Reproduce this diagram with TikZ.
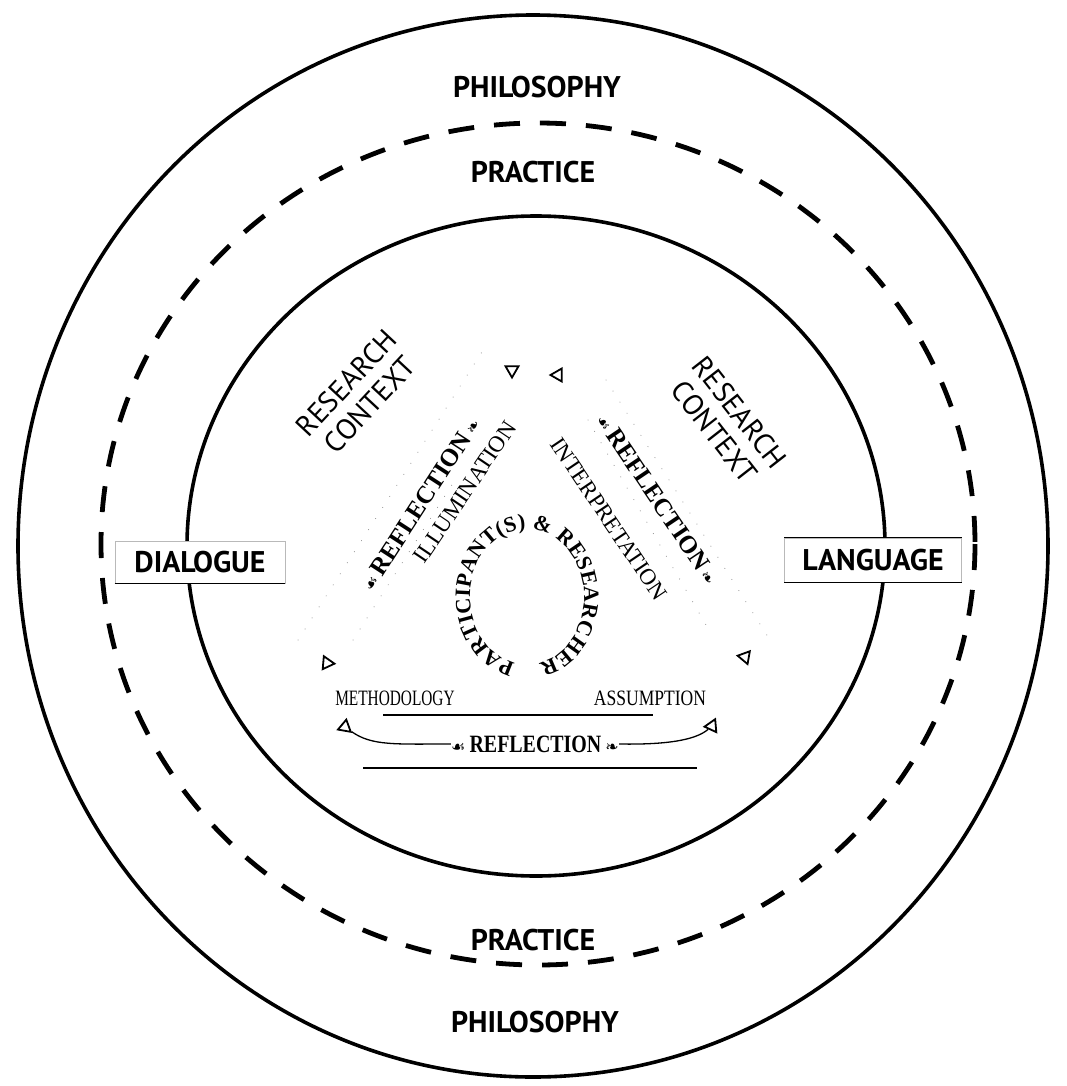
\documentclass[tikz,border=0pt]{standalone}
\usepackage{fontspec}
\setmainfont{Liberation Serif}
\setsansfont{PT Sans}
\newfontfamily\ornfont{DejaVu Sans}
\usetikzlibrary{decorations.text,shapes.geometric}
\newcommand{\lorn}{{\ornfont\fontsize{16}{16}\selectfont ☙}}
\newcommand{\rorn}{{\ornfont\fontsize{16}{16}\selectfont ❧}}
\tikzset{
  ringline/.style={line width=3.6bp},
  dashring/.style={line width=4.8bp, dash pattern=on 26bp off 20bp},
  ringlabel/.style={font=\sffamily\bfseries\fontsize{30}{32}\selectfont, inner sep=0pt},
  boxlabel/.style={font=\sffamily\bfseries\fontsize{30}{32}\selectfont, fill=white,
    draw=gray!55, line width=0.6bp, inner sep=0pt},
  ctxlabel/.style={font=\sffamily\fontsize{29}{32}\selectfont, align=center, inner sep=0pt},
  reflabel/.style={font=\bfseries\fontsize{25}{27}\selectfont, inner sep=0pt},
  sidelabel/.style={font=\fontsize{23}{25}\selectfont, inner sep=0pt},
  baselabel/.style={font=\fontsize{22}{24}\selectfont, inner sep=0pt},
  tri/.style={draw, regular polygon, regular polygon sides=3, minimum size=15bp,
    inner sep=0pt, line width=1.8bp},
  bandline/.style={gray!75, line width=1.1bp, line cap=round, dash pattern=on 0.1bp off 13bp},
  rule/.style={line width=1.4bp},
}
\begin{document}
\begin{tikzpicture}[x=1bp,y=-1bp]
\useasboundingbox (0,0) rectangle (1067,1086);
\fill[white] (0,0) rectangle (1067,1086);

% the three rings
\draw[ringline] (533,546) ellipse [x radius=515, y radius=531];
\draw[dashring] (538,544) ellipse [x radius=437, y radius=421];
\draw[ringline] (536,546) ellipse [x radius=349, y radius=330];

% ring labels
\node[ringlabel] (philT) at (537,87) {PHILOSOPHY};
\node[ringlabel] (pracT) at (533,172) {PRACTICE};
\node[ringlabel] (pracB) at (533,940) {PRACTICE};
\node[ringlabel] (philB) at (535,1022) {PHILOSOPHY};

% side boxes
\node[boxlabel, minimum width=170bp, minimum height=42bp] (dlg) at (200,562) {DIALOGUE};
\draw[line width=1.6bp] (dlg.south west) -- (dlg.south east);
\node[boxlabel, minimum width=177bp, minimum height=44bp] (lang) at (873,560) {LANGUAGE};
\draw[line width=1.4bp] (lang.north west) -- (lang.north east);
\draw[line width=1.6bp] (lang.south west) -- (lang.south east);

% research context
\node[ctxlabel, rotate=47] (ctxL) at (358,394) {RESEARCH\\CONTEXT};
\node[ctxlabel, rotate=-52] (ctxR) at (727,422) {RESEARCH\\CONTEXT};

% corner markers of the triangle
\node[tri, rotate=180] (tTL) at (512,370) {};
\node[tri, rotate=90] (tTR) at (558,375) {};
\node[tri, rotate=-95] (tL1) at (327,663) {};
\node[tri, rotate=110] (tL2) at (345,727) {};
\node[tri, rotate=80] (tR1) at (745,657) {};
\node[tri, rotate=95] (tR2) at (712,726) {};

% faint dotted bands along the two sides
\draw[bandline] (298,640) -- (482,352);
\draw[bandline] (353,640) -- (455,480);
\draw[bandline] (606,380) -- (770,640);
\draw[bandline] (588,420) -- (706,625);

% side reflections
\node[reflabel, rotate=57] (refL) at (420,504) {\lorn\,REFLECTION\,\rorn};
\node[reflabel, rotate=-56] (refR) at (658,499) {\lorn\,REFLECTION\,\rorn};
\node[sidelabel, rotate=56] (illum) at (465,492) {ILLUMINATION};
\node[sidelabel, rotate=-56] (interp) at (609,519) {INTERPRETATION};

% central loop
\path[decorate, decoration={text along path,
    text={|\bfseries\fontsize{22}{24}\selectfont|PARTICIPANT(S) {\&} RESEARCHER},
    text align={fit to path}}]
  (527,597) ++(102:57 and 68) arc[start angle=102, end angle=438, x radius=57, y radius=68];

% base of the triangle
\node[baselabel] (meth) at (395,698) {\scalebox{0.7}[1]{METHODOLOGY}};
\node[baselabel] (assm) at (650,698) {\scalebox{0.8}[1]{ASSUMPTION}};
\draw[rule] (383,715) -- (653,715);
\node[reflabel] (refB) at (535,744) {\lorn\,\scalebox{0.8}[1]{REFLECTION}\,\rorn};
\draw[line width=1.3bp] (tL2) .. controls (372,746) and (395,744) .. (refB.west);
\draw[line width=1.3bp] (refB.east) .. controls (675,745) and (698,738) .. (tR2);
\draw[rule] (363,768) -- (697,768);
\end{tikzpicture}
\end{document}
